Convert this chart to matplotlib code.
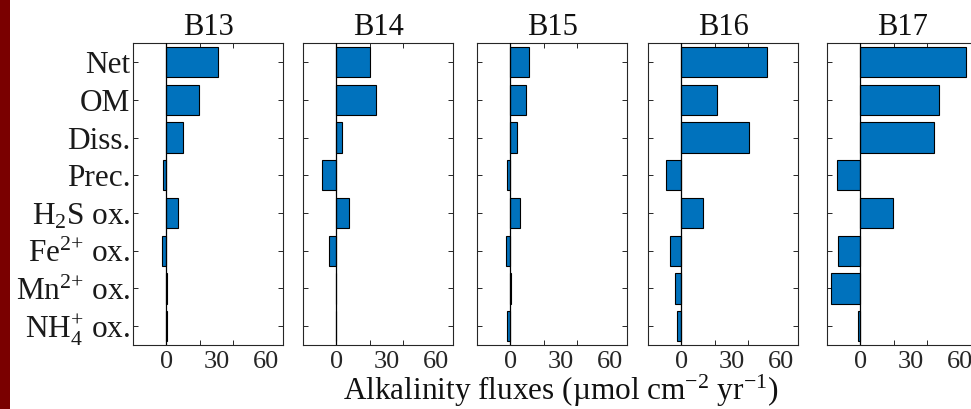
import matplotlib
matplotlib.use("Agg")
import matplotlib.pyplot as plt
from matplotlib.patches import Rectangle
from matplotlib.ticker import FixedLocator

plt.rcParams['font.family'] = ['Liberation Serif', 'DejaVu Serif']
plt.rcParams['mathtext.fontset'] = 'custom'
plt.rcParams['mathtext.rm'] = 'Liberation Serif'
plt.rcParams['mathtext.it'] = 'Liberation Serif:italic'
plt.rcParams['mathtext.bf'] = 'Liberation Serif:bold'
plt.rcParams['mathtext.sf'] = 'Liberation Serif'

categories = ["Net", "OM", "Diss.", "Prec.", r"H$_{\mathrm{2}}$S ox.",
              r"Fe$^{\mathrm{2{+}}}$ ox.", r"Mn$^{\mathrm{2{+}}}$ ox.",
              r"NH$_{\mathrm{4}}^{\mathrm{{+}}}$ ox."]
stations = ["B13", "B14", "B15", "B16", "B17"]

B13 = [30.8, 19.6, 9.8, -2.2, 6.8, -2.4, 0.3, 0.3]
B14 = [20.2, 23.6, 3.2, -8.8, 7.4, -4.2, -0.4, -0.3]
B15 = [11.4, 9.6, 4.0, -1.8, 5.6, -2.8, 0.3, -1.8]
B16 = [51.2, 21.2, 40.4, -9.0, 12.8, -7.0, -4.0, -2.8]
B17 = [63.4, 47.4, 44.2, -14.0, 19.4, -13.6, -17.6, -1.2]
series = [B13, B14, B15, B16, B17]

xticklabels = ["0", "30", "60"]
xlabel_text = r"Alkalinity fluxes (µmol cm$^{\mathrm{{-}2}}$ yr$^{\mathrm{{-}1}}$)"

W, H = 971, 409
fig = plt.figure(figsize=(W / 100, H / 100), dpi=100)

lefts = [133, 303, 477, 648, 827]
ax_w = 150
top_px, bot_px = 43.3, 345
spine_col = '#262626'
bar_col = '#0072BD'

ypos = list(range(len(categories), 0, -1))

for i, (st, vals) in enumerate(zip(stations, series)):
    ax = fig.add_axes([lefts[i] / W, (H - bot_px) / H, ax_w / W, (bot_px - top_px) / H])
    ax.barh(ypos, vals, height=0.8, color=bar_col, edgecolor='black', linewidth=0.8, zorder=2)
    ax.axvline(0, color='black', linewidth=0.9, zorder=3)
    ax.set_xlim(-20, 70)
    ax.set_ylim(0.5, len(categories) + 0.5)
    # tick marks at 0,20,40,60 ; labels at 0,30,60
    ax.xaxis.set_major_locator(FixedLocator([0, 30, 60]))
    ax.set_xticklabels(xticklabels)
    ax.xaxis.set_minor_locator(FixedLocator([0, 20, 40, 60]))
    ax.tick_params(axis='x', which='major', length=0, labelsize=19, pad=4,
                   labelcolor='#262626')
    ax.tick_params(axis='x', which='minor', direction='in', length=3.5, width=0.7,
                   top=True, bottom=True, color=spine_col)
    ax.set_yticks(ypos)
    if i == 0:
        ax.set_yticklabels(categories)
    else:
        ax.set_yticklabels([])
    ax.tick_params(axis='y', direction='in', length=3.5, width=0.7, left=True, right=True,
                   labelsize=22.5, pad=2, color=spine_col, labelcolor='#1a1a1a')
    for sp in ax.spines.values():
        sp.set_color(spine_col)
        sp.set_linewidth(0.8)
    ax.set_title(st, fontsize=22, pad=6, color='#111111')

fig.text(561 / W, 1 - 400 / H, xlabel_text, ha='center', va='baseline', fontsize=22.5,
         color='#111111')

# dark red strip at the left edge
fig.patches.append(Rectangle((0, 0), 10 / W, 1, transform=fig.transFigure,
                             facecolor='#7a0000', edgecolor='none', zorder=10))

fig.savefig("out.png", dpi=100)
